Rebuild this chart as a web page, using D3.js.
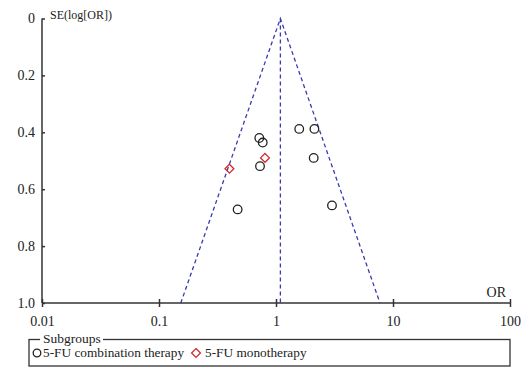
<!DOCTYPE html>
<html>
<head>
<meta charset="utf-8">
<script src="https://cdn.jsdelivr.net/npm/d3@7"></script>
<style>
  body { margin: 0; background: #fff; }
  text { font-family: "Liberation Serif", "DejaVu Serif", serif; fill: #222; }
</style>
</head>
<body>
<div id="chart"></div>
<script>
// study estimates
var comboOR = [1.58, 2.13, 0.72, 0.77, 2.10, 0.73, 0.47, 3.01];
var comboSE = [0.388, 0.388, 0.420, 0.436, 0.490, 0.519, 0.671, 0.657];
var monoOR = [0.805, 0.40];
var monoSE = [0.490, 0.528];
var pooledOR = 1.09;
var xTicks = [0.01, 0.1, 1, 10, 100];
var yTicks = [0, 0.2, 0.4, 0.6, 0.8, 1.0];
var legendLabels = ["5-FU combination therapy", "5-FU monotherapy"];

var width = 521, height = 373;
var svg = d3.select("#chart").append("svg")
    .attr("width", width)
    .attr("height", height);

var xScale = d3.scaleLog().domain([0.01, 100]).range([42, 510]);
var yScale = d3.scaleLinear().domain([0, 1]).range([18.5, 303]);

// funnel: pooled line and 95% limits
var funnelPts = [
    [pooledOR * Math.exp(-1.96), 1],
    [pooledOR, 0],
    [pooledOR * Math.exp(1.96), 1]
];
var line = d3.line()
    .x(function (d) { return xScale(d[0]); })
    .y(function (d) { return yScale(d[1]); });

svg.append("path")
    .datum(funnelPts)
    .attr("d", line)
    .style("fill", "none")
    .style("stroke", "#3a3aae")
    .style("stroke-width", 1.3)
    .style("stroke-dasharray", "4,3");

svg.append("path")
    .datum([[pooledOR, 0], [pooledOR, 1]])
    .attr("d", line)
    .style("fill", "none")
    .style("stroke", "#3a3aae")
    .style("stroke-width", 1.3)
    .style("stroke-dasharray", "4,3");

// x axis
var xAxis = svg.append("g")
    .attr("transform", "translate(0," + yScale(1) + ")")
    .call(d3.axisBottom(xScale).tickValues(xTicks).tickSize(4).tickPadding(9)
        .tickFormat(function (d) { return d; }));
xAxis.select(".domain").attr("stroke", "#333").attr("stroke-width", 1.5).attr("d", "M42,0H510");
xAxis.selectAll(".tick line").attr("y1", -4).attr("stroke", "#333").attr("stroke-width", 1.5);
xAxis.selectAll(".tick text").style("font-size", "14px").attr("fill", "#222");

// y axis
var yAxis = svg.append("g")
    .attr("transform", "translate(" + xScale(0.01) + ",0)")
    .call(d3.axisLeft(yScale).tickValues(yTicks).tickSize(3).tickPadding(4)
        .tickFormat(function (d) { return d === 0 ? "0" : d3.format(".1f")(d); }));
yAxis.select(".domain").attr("stroke", "#333").attr("stroke-width", 1.5).attr("d", "M0,18.5V303");
yAxis.selectAll(".tick line").attr("x2", 3).attr("stroke", "#333").attr("stroke-width", 1.5);
yAxis.selectAll(".tick text").style("font-size", "14px").attr("fill", "#222");

svg.append("text")
    .attr("x", 50).attr("y", 19)
    .style("font-size", "12px")
    .text("SE(log[OR])");

svg.append("text")
    .attr("x", 506).attr("y", 297)
    .style("text-anchor", "end")
    .style("font-size", "14px")
    .text("OR");

// points
svg.selectAll(".combo")
    .data(comboOR)
    .enter().append("circle")
    .attr("class", "combo")
    .attr("cx", function (d) { return xScale(d); })
    .attr("cy", function (d, i) { return yScale(comboSE[i]); })
    .attr("r", 4.3)
    .style("fill", "none")
    .style("stroke", "#222")
    .style("stroke-width", 1.3);

var diamond = d3.symbol().type(d3.symbolDiamond2).size(50);
svg.selectAll(".mono")
    .data(monoOR)
    .enter().append("path")
    .attr("class", "mono")
    .attr("d", diamond)
    .attr("transform", function (d, i) {
        return "translate(" + xScale(d) + "," + yScale(monoSE[i]) + ")";
    })
    .style("fill", "none")
    .style("stroke", "#d42a2a")
    .style("stroke-width", 1.3);

// legend
var lg = svg.append("g");
lg.append("rect")
    .attr("x", 29).attr("y", 339.5)
    .attr("width", 481).attr("height", 26.5)
    .style("fill", "none")
    .style("stroke", "#333")
    .style("stroke-width", 1.3);
lg.append("rect")
    .attr("x", 40).attr("y", 332)
    .attr("width", 63).attr("height", 14)
    .style("fill", "#fff");
lg.append("text")
    .attr("x", 43).attr("y", 343)
    .style("font-size", "13.5px")
    .text("Subgroups");

lg.append("circle")
    .attr("cx", 37).attr("cy", 353)
    .attr("r", 3.8)
    .style("fill", "none")
    .style("stroke", "#222")
    .style("stroke-width", 1.3);
lg.append("text")
    .attr("x", 43).attr("y", 357)
    .style("font-size", "13.3px")
    .text(legendLabels[0]);

lg.append("path")
    .attr("d", diamond)
    .attr("transform", "translate(196,353)")
    .style("fill", "none")
    .style("stroke", "#d42a2a")
    .style("stroke-width", 1.3);
lg.append("text")
    .attr("x", 205).attr("y", 357)
    .style("font-size", "13.3px")
    .text(legendLabels[1]);
</script>
</body>
</html>
